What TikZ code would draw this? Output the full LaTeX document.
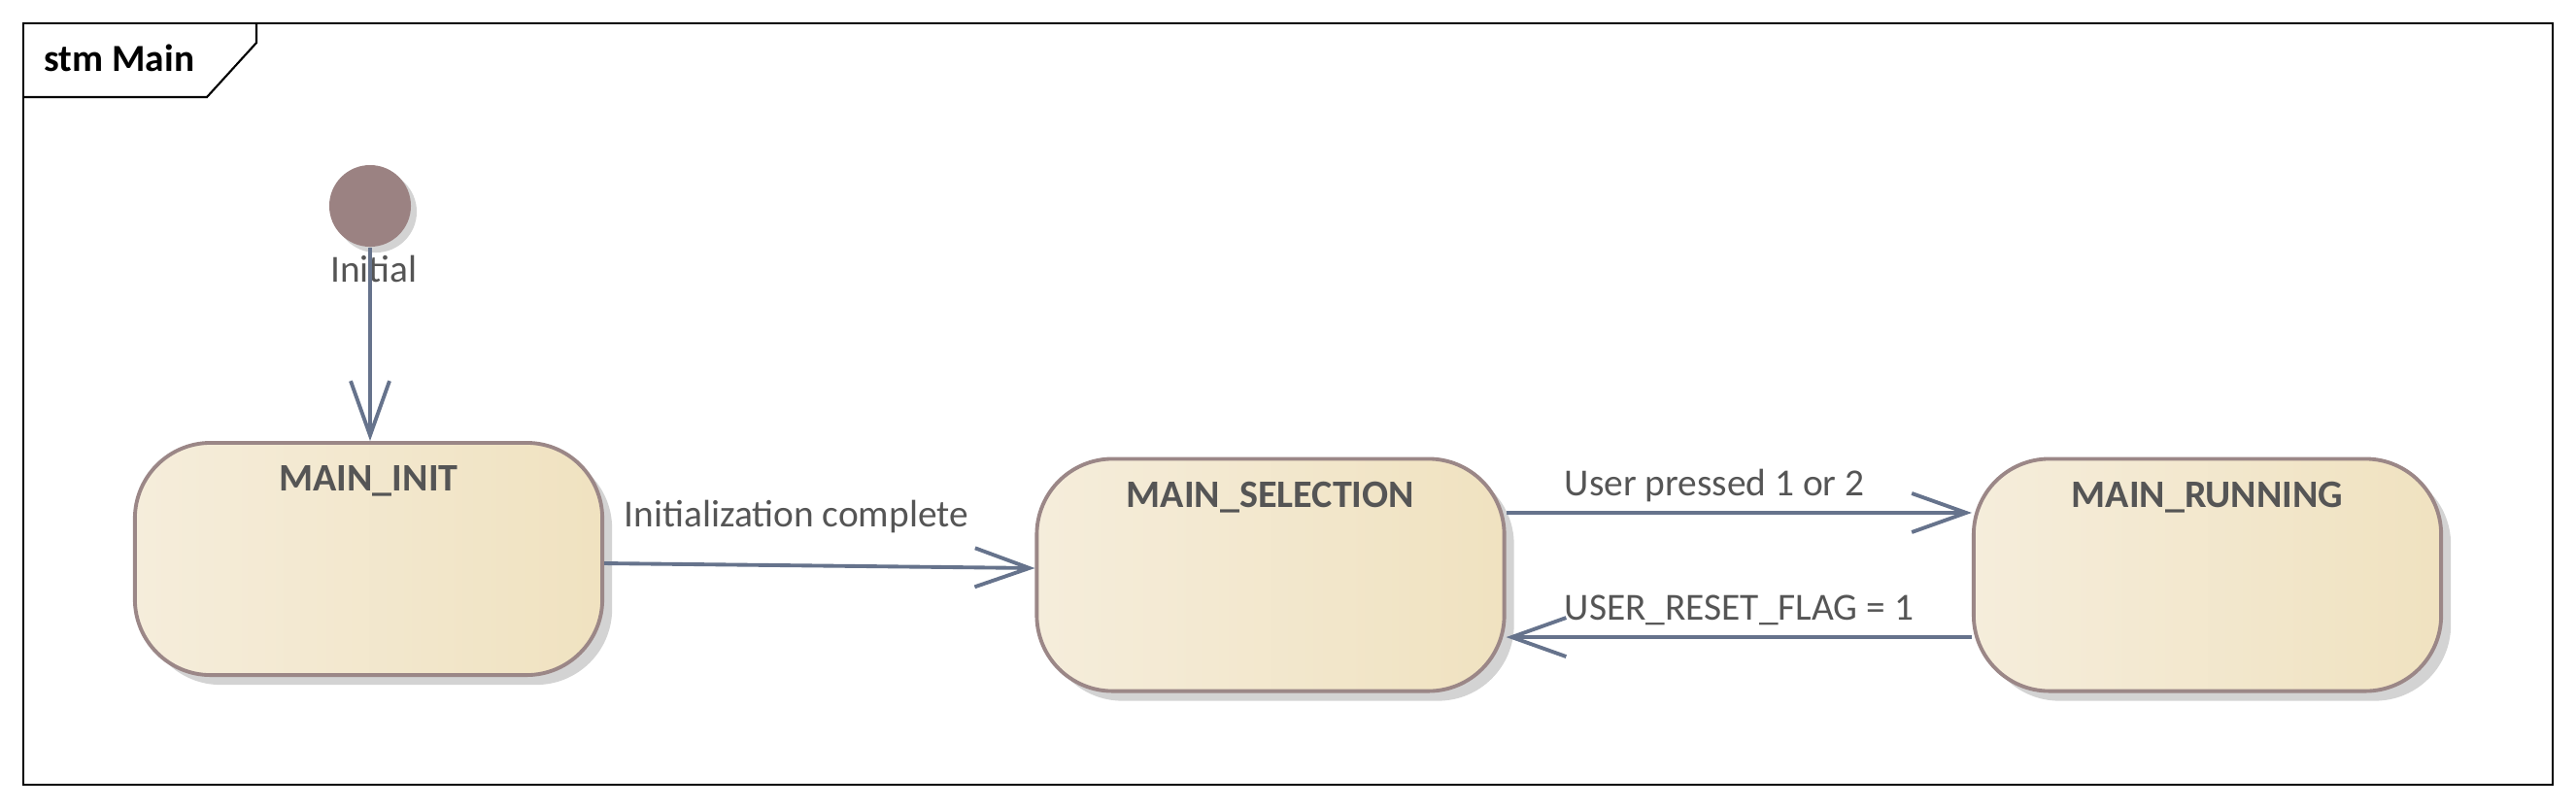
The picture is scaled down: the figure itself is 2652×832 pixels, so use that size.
\documentclass[tikz,border=0pt]{standalone}
\usepackage{fontspec}
\setmainfont{Carlito}
\usetikzlibrary{arrows.meta,shadows}
\definecolor{stmborder}{RGB}{155,135,135}
\definecolor{stmleft}{RGB}{245,237,219}
\definecolor{stmright}{RGB}{240,226,192}
\definecolor{stminit}{RGB}{155,130,130}
\definecolor{stmarrow}{RGB}{102,115,140}
\definecolor{stmtext}{RGB}{85,85,85}
\definecolor{stmshadow}{RGB}{211,211,211}

\begin{document}
\begin{tikzpicture}[x=0.01cm,y=-0.01cm,
  mainstate/.style={draw=stmborder, line width=1.1pt, rounded corners=0.78cm,
    left color=stmleft, right color=stmright, minimum width=4.81cm,
    inner xsep=0pt, inner ysep=0pt, text height=0.5cm, text depth=1.89cm,
    font=\fontsize{11.4}{13}\selectfont\bfseries, text=stmtext,
    drop shadow={shadow xshift=0.1cm, shadow yshift=-0.1cm, fill=stmshadow, opacity=1}},
  initstate/.style={circle, fill=stminit, minimum size=0.84cm, inner sep=0pt,
    drop shadow={shadow xshift=0.06cm, shadow yshift=-0.06cm, fill=stmshadow, opacity=1}},
  trlabel/.style={font=\fontsize{11.2}{13}\selectfont, text=stmtext, inner sep=0pt},
  trans/.style={draw=stmarrow, line width=1.1pt, -{Straight Barb[length=0.56cm, width=0.4cm]}}]
\useasboundingbox (0,0) rectangle (2652,832);
% Frame
\draw[line width=0.6pt] (24,24) rectangle (2628,808);
\draw[line width=0.6pt] (24,100) -- (213,100) -- (264,44) -- (264,24);
\node[font=\fontsize{11.2}{13}\selectfont\bfseries, anchor=base west, inner sep=0pt] (frametitle) at (45,73) {stm Main};
% States
\node[initstate] (initial) at (381,212) {};
\node[trlabel, anchor=base] (initiallbl) at (385,290) {Initial};
\node[mainstate] (init) at (379.5,575.5) {MAIN\_INIT};
\node[mainstate] (selection) at (1308,592) {MAIN\_SELECTION};
\node[mainstate] (running) at (2272.5,592) {MAIN\_RUNNING};
% Transitions
\draw[trans] (initial.south) -- (initial.south |- init.north);
\draw[trans] ([yshift=-0.045cm]init.east) -- ([yshift=0.07cm]selection.west);
\draw[trans] ([yshift=0.64cm]selection.east) -- ([yshift=0.64cm]running.west);
\draw[trans] ([yshift=-0.64cm]running.west) -- ([yshift=-0.64cm]selection.east);
% Guards
\node[trlabel, anchor=base west] (initdone) at (642,542) {Initialization complete};
\node[trlabel, anchor=base west] (userpressed) at (1610,510) {User pressed 1 or 2};
\node[trlabel, anchor=base west] (userreset) at (1610,638) {USER\_RESET\_FLAG = 1};
\end{tikzpicture}
\end{document}
